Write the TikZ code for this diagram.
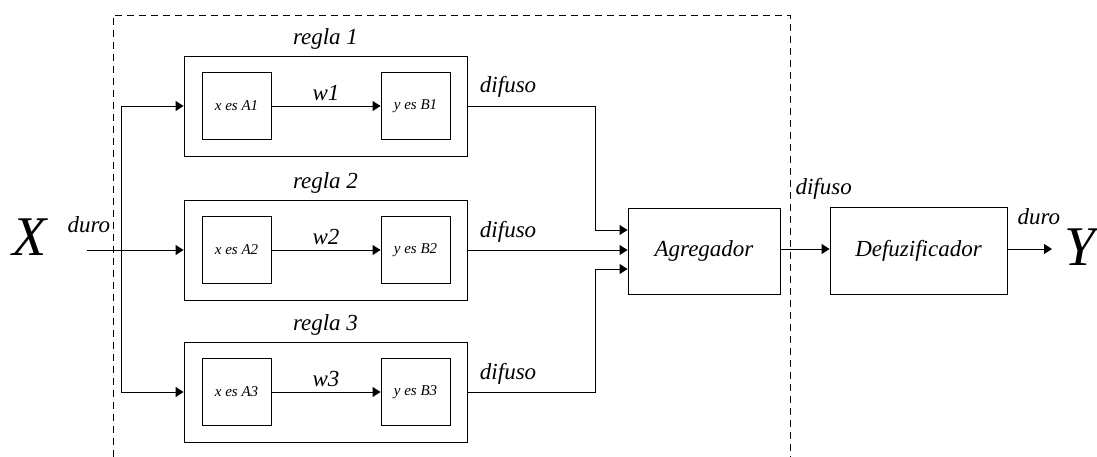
\documentclass[tikz,border=0pt]{standalone}
\usepackage{fontspec}
\setmainfont{Liberation Serif}
\usetikzlibrary{arrows.meta,calc}
\begin{document}
\begin{tikzpicture}[x=1pt, y=-1pt,
    caja/.style={draw, line width=0.9pt, inner sep=0pt},
    flecha/.style={-{Triangle[length=8pt,width=10pt]}, line width=0.9pt},
    linea/.style={line width=0.9pt},
    etiqueta/.style={font=\itshape\fontsize{23}{26}\selectfont},
    chica/.style={font=\itshape\fontsize{15}{17}\selectfont},
    grande/.style={font=\itshape\fontsize{56}{60}\selectfont, inner sep=0pt}]
    \useasboundingbox (0,0) rectangle (1097,457);

    % Dashed frame of the inference block (open at the bottom)
    \draw[linea, dash pattern=on 7pt off 5pt] (113,457) -- (113,15) -- (790,15) -- (790,457);

    % The three rules
    \foreach \i/\yc in {1/106, 2/250, 3/392} {
        \node[caja, minimum width=283, minimum height=100] (regla\i) at (325.5,\yc) {};
        \node[etiqueta, above=3pt] (titulo\i) at (regla\i.north) {regla \i};
        \node[caja, chica, minimum width=69, minimum height=67] (antec\i) at (236.5,\yc) {x es A\i};
        \node[caja, chica, minimum width=69, minimum height=67] (conse\i) at (415.5,\yc) {y es B\i};
        \draw[flecha] (antec\i) -- node[etiqueta, above=1pt] (peso\i) {w\i} (conse\i);
        \node[etiqueta, anchor=base west] (dif\i) at ($(regla\i.east)+(9,-13)$) {difuso};
    }

    % Input
    \node[grande, anchor=base west] (X) at (12,255) {X};
    \node[etiqueta, anchor=base west] (duroX) at (64,232) {duro};
    \coordinate (entrada) at (87,250);
    \coordinate (bif) at (121,250);
    \draw[flecha] (entrada) -- (regla2.west);
    \draw[linea] (bif |- regla1.west) -- (bif |- regla3.west);
    \draw[flecha] (bif |- regla1.west) -- (regla1.west);
    \draw[flecha] (bif |- regla3.west) -- (regla3.west);

    % Aggregation
    \node[caja, etiqueta, minimum width=152, minimum height=86] (agreg) at (704,251) {Agregador};
    \draw[flecha] (regla1.east) -| ($(agreg.west)+(-32,-21)$) -- ($(agreg.west)+(0,-21)$);
    \draw[flecha] (regla2.east) -- ($(agreg.west)+(0,-1)$);
    \draw[flecha] (regla3.east) -| ($(agreg.west)+(-32,18)$) -- ($(agreg.west)+(0,18)$);

    % Defuzzification and output
    \node[caja, etiqueta, minimum width=177, minimum height=87] (defuz) at (918.5,251) {Defuzificador};
    \draw[flecha] (agreg.east |- 0,249) -- (defuz.west |- 0,249);
    \node[etiqueta, anchor=base west] (difA) at (792,195) {difuso};
    \coordinate (salida) at (1052,249);
    \draw[flecha] (defuz.east |- salida) -- (salida);
    \node[etiqueta, anchor=base west] (duroY) at (1014,225) {duro};
    \node[grande, anchor=base west] (Y) at (1064,265) {Y};
\end{tikzpicture}
\end{document}
